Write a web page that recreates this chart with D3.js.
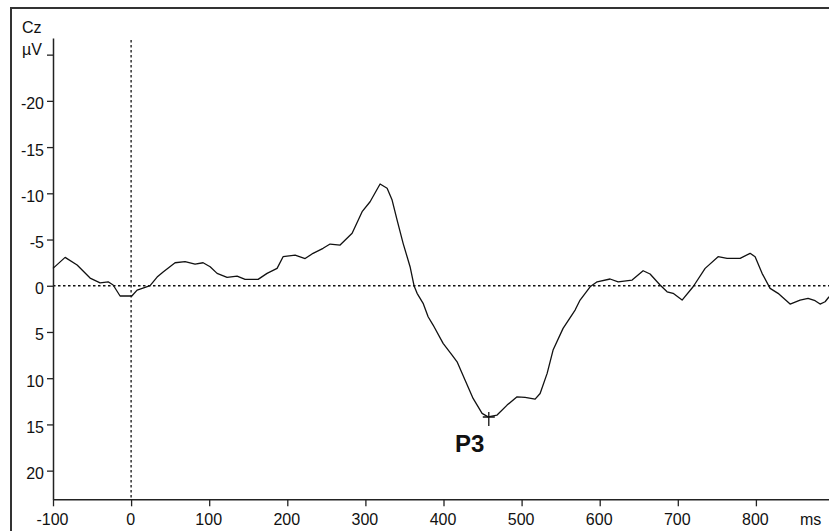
<!DOCTYPE html>
<html>
<head>
<meta charset="utf-8">
<script src="https://cdn.jsdelivr.net/npm/d3@7"></script>
<style>
  html, body { margin: 0; padding: 0; background: #fff; }
  svg { display: block; }
  text { font-family: "Liberation Sans", Arial, sans-serif; fill: #111; }
</style>
</head>
<body>
<svg id="chart" width="829" height="531"></svg>
<script>
// ERP trace at electrode Cz: latency (ms) and amplitude (µV, negative plotted upward)
const times = [-100, -84.5, -69.1, -52.5, -39.7, -29.4, -23.0, -14.1, 0.9, 7.7, 11.5, 24.3, 33.3, 41.0,
  56.3, 69.1, 81.9, 92.2, 101.2, 110.1, 122.9, 135.7, 146.0, 162.6, 174.1, 186.9, 194.6, 210.0,
  222.8, 233.0, 245.8, 254.8, 267.6, 283.0, 295.8, 306.0, 318.8, 327.8, 334.2, 340.6, 348.3,
  357.2, 362.4, 366.2, 373.9, 380.3, 386.7, 399.5, 411.0, 417.4, 427.7, 437.9, 449.4, 457.1,
  468.6, 481.4, 494.2, 504.5, 517.3, 523.7, 532.7, 540.3, 553.1, 568.5, 574.9, 587.7, 596.7,
  613.3, 623.6, 641.5, 655.6, 664.5, 677.3, 686.3, 694.0, 705.5, 719.6, 735.0, 751.6, 763.1,
  779.8, 792.6, 799.0, 807.9, 818.2, 828.4, 843.8, 856.6, 866.8, 875.8, 882.2, 888.6, 893.7];
const amplitudes = [-1.88, -3.07, -2.24, -0.83, -0.32, -0.43, -0.08, 1.11, 1.11, 0.47, 0.36, -0.02, -0.94, -1.48,
  -2.49, -2.60, -2.35, -2.49, -2.06, -1.34, -0.91, -1.05, -0.69, -0.69, -1.34, -1.88, -3.14, -3.32,
  -2.94, -3.51, -4.05, -4.51, -4.40, -5.67, -8.01, -9.09, -11.01, -10.54, -9.27, -7.09, -4.59,
  -2.06, 0.03, 0.82, 1.90, 3.35, 4.25, 6.23, 7.50, 8.23, 10.21, 12.19, 13.81, 14.18,
  13.99, 12.91, 12.01, 12.08, 12.26, 11.65, 9.48, 6.96, 4.61, 2.63, 1.55, 0.11, -0.43,
  -0.73, -0.43, -0.62, -1.62, -1.27, -0.08, 0.65, 0.82, 1.55, 0.11, -1.88, -3.14, -2.97,
  -2.97, -3.51, -3.14, -1.34, 0.28, 0.82, 1.98, 1.55, 1.36, 1.62, 1.98, 1.73, 1.19];

const xTicks = [-100, 0, 100, 200, 300, 400, 500, 600, 700, 800];
const yTicks = [-25, -20, -15, -10, -5, 0, 5, 10, 15, 20];

// labelled component peak
const peakName = "P3";
const peakTime = 458;
const peakAmp = 14.2;

const svg = d3.select("#chart");

const x = d3.scaleLinear().domain([-100, 900]).range([53, 834]);
const y = d3.scaleLinear().domain([-26.8, 23.1]).range([38, 499.3]);

// plain hyphen-minus labels
const fmt = d => String(d);

// outer frame (left and top edges)
svg.append("path")
  .attr("d", "M11,531 V8 H829")
  .attr("fill", "none")
  .attr("stroke", "#333")
  .attr("stroke-width", 2);

// reference lines at 0 µV and 0 ms
svg.append("line")
  .attr("x1", x(-100)).attr("x2", 829)
  .attr("y1", y(0)).attr("y2", y(0))
  .attr("stroke", "#111").attr("stroke-width", 1.3)
  .attr("stroke-dasharray", "2.5,2.5");
svg.append("line")
  .attr("x1", x(0)).attr("x2", x(0))
  .attr("y1", 40).attr("y2", y.range()[1])
  .attr("stroke", "#111").attr("stroke-width", 1.3)
  .attr("stroke-dasharray", "2.5,2.5");

// y axis
const yAxis = svg.append("g")
  .attr("transform", `translate(${x(-100)},0)`)
  .call(d3.axisLeft(y).tickValues(yTicks).tickSize(6).tickSizeOuter(0).tickPadding(3)
    .tickFormat(d => d === -25 ? "" : fmt(d)));
yAxis.select(".domain").attr("stroke", "#222").attr("stroke-width", 1.5);
yAxis.selectAll(".tick line").attr("stroke", "#222").attr("stroke-width", 1.3);
yAxis.selectAll(".tick text")
  .attr("dy", "0.5em")
  .style("font-size", "16px")
  .style("font-family", "\"Liberation Sans\", Arial, sans-serif")
  .attr("fill", "#111");

// x axis
const xAxis = svg.append("g")
  .attr("transform", `translate(0,${y.range()[1]})`)
  .call(d3.axisBottom(x).tickValues(xTicks).tickSize(7).tickSizeOuter(0).tickFormat(fmt));
xAxis.select(".domain").attr("stroke", "#222").attr("stroke-width", 1.5);
xAxis.selectAll(".tick line").attr("stroke", "#222").attr("stroke-width", 1.3);
xAxis.selectAll(".tick text")
  .attr("y", 26).attr("dy", null)
  .attr("dx", -1)
  .style("font-size", "16px")
  .style("font-family", "\"Liberation Sans\", Arial, sans-serif")
  .attr("fill", "#111");

// axis unit labels
svg.append("text").attr("x", 22).attr("y", 33).style("font-size", "16px").text("Cz");
svg.append("text").attr("x", 22).attr("y", 55).style("font-size", "16px").text("µV");
svg.append("text").attr("x", 800).attr("y", 525).style("font-size", "16px").text("ms");

// waveform
const pts = times.map((t, i) => [t, amplitudes[i]]);
svg.append("path")
  .datum(pts)
  .attr("fill", "none")
  .attr("stroke", "#111")
  .attr("stroke-width", 1.3)
  .attr("stroke-linejoin", "round")
  .attr("d", d3.line().x(d => x(d[0])).y(d => y(d[1])));

// peak marker and label
const px = x(peakTime), py = y(peakAmp);
svg.append("path")
  .attr("d", `M${px - 6},${py} H${px + 6} M${px},${py - 5} V${py + 9}`)
  .attr("stroke", "#111").attr("stroke-width", 1.3).attr("fill", "none");
svg.append("text")
  .attr("x", px - 19).attr("y", py + 35)
  .attr("text-anchor", "middle")
  .style("font-size", "24px")
  .style("font-weight", "bold")
  .text(peakName);
</script>
</body>
</html>
